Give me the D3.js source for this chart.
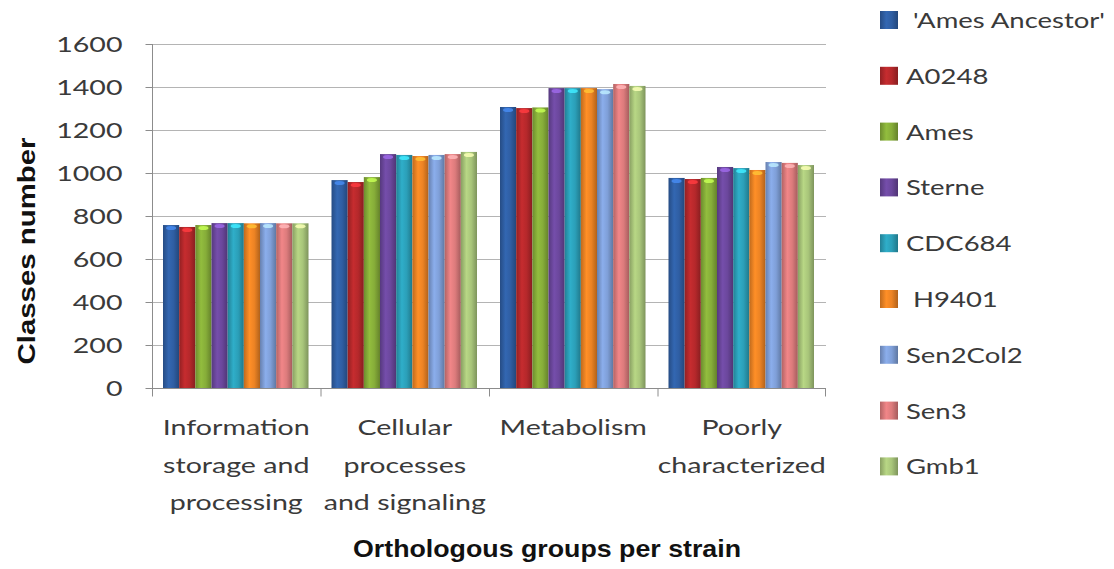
<!DOCTYPE html>
<html>
<head>
<meta charset="utf-8">
<script src="https://cdn.jsdelivr.net/npm/d3@7"></script>
<style>
  body { margin: 0; background: #fff; }
  svg { display: block; }
</style>
</head>
<body>
<svg id="chart" width="1114" height="569"></svg>
<script>
var categories = [
  ["Information", "storage and", "processing"],
  ["Cellular", "processes", "and signaling"],
  ["Metabolism"],
  ["Poorly", "characterized"]
];
var seriesNames = ["\u00a0'Ames Ancestor'", "A0248", "Ames", "Sterne", "CDC684", "\u00a0H9401", "Sen2Col2", "Sen3", "Gmb1"];
var seriesColors = ["#2f5ea3", "#b5282b", "#86ad39", "#6b479c", "#2b9fb8", "#ec8324", "#7f9fd8", "#dc7b7c", "#a8c57a"];

var amesAncestor = [758, 967, 1307, 977];
var a0248 = [749, 958, 1302, 972];
var ames = [758, 981, 1305, 977];
var sterne = [767, 1088, 1395, 1028];
var cdc684 = [767, 1084, 1395, 1023];
var h9401 = [766, 1079, 1395, 1014];
var sen2col2 = [767, 1084, 1390, 1051];
var sen3 = [766, 1088, 1414, 1047];
var gmb1 = [766, 1098, 1405, 1037];
var seriesValues = [amesAncestor, a0248, ames, sterne, cdc684, h9401, sen2col2, sen3, gmb1];

var yTicks = [0, 200, 400, 600, 800, 1000, 1200, 1400, 1600];

var [plotLeft, plotRight, plotTop, plotBottom] = [152, 826, 44, 388];
var font = "Lato, 'Open Sans', sans-serif";
var textColor = "#3a3a3a";

/** Scales */
var x0 = d3.scaleBand().domain(d3.range(categories.length)).range([plotLeft, plotRight]);
var x1 = d3.scaleBand().domain(d3.range(seriesNames.length)).range([11, x0.bandwidth() - 12]);
var y = d3.scaleLinear().domain([0, 1600]).range([plotBottom, plotTop]);

var svg = d3.select("#chart");
var defs = svg.append("defs");

// bar gradients, darker at edges
seriesColors.forEach(function (c, i) {
  var g = defs.append("linearGradient").attr("id", "bar" + i)
    .attr("x1", 0).attr("x2", 1).attr("y1", 0).attr("y2", 0);
  var base = d3.color(c);
  g.append("stop").attr("offset", "0%").attr("stop-color", base.darker(0.6));
  g.append("stop").attr("offset", "35%").attr("stop-color", base.brighter(0.25));
  g.append("stop").attr("offset", "65%").attr("stop-color", base);
  g.append("stop").attr("offset", "100%").attr("stop-color", base.darker(0.8));
});

/** Grid */
svg.append("g").selectAll("line")
  .data(yTicks.slice(1))
  .enter().append("line")
  .attr("x1", plotLeft).attr("x2", plotRight)
  .attr("y1", d => y(d) + 0.5).attr("y2", d => y(d) + 0.5)
  .attr("stroke", "#b4b4b4").attr("stroke-width", 1.2);

/** Y axis */
var yAxis = svg.append("g")
  .attr("transform", "translate(" + (plotLeft + 0.5) + ",0)")
  .call(d3.axisLeft(y).tickValues(yTicks).tickFormat(d3.format("d")).tickSize(7).tickPadding(23));
yAxis.select(".domain").attr("stroke", "#8c8c8c").attr("d", "M0," + plotTop + "V" + plotBottom);
yAxis.selectAll(".tick line").attr("stroke", "#8c8c8c");
yAxis.selectAll(".tick text").attr("fill", textColor)
  .style("font-family", font).style("font-size", "22px");

/** Bars */
var groups = svg.append("g").selectAll("g")
  .data(categories)
  .enter().append("g")
  .attr("transform", (d, i) => "translate(" + x0(i) + ",0)");

groups.selectAll("rect")
  .data((d, ci) => seriesValues.map((vals, si) => ({ si: si, v: vals[ci] })))
  .enter().append("rect")
  .attr("x", d => x1(d.si))
  .attr("y", d => y(d.v))
  .attr("width", x1.bandwidth())
  .attr("height", d => plotBottom - y(d.v))
  .attr("fill", d => "url(#bar" + d.si + ")");

// small highlight at the top of each bar
groups.selectAll("ellipse")
  .data((d, ci) => seriesValues.map((vals, si) => ({ si: si, v: vals[ci] })))
  .enter().append("ellipse")
  .attr("cx", d => x1(d.si) + x1.bandwidth() / 2)
  .attr("cy", d => y(d.v) + 3)
  .attr("rx", x1.bandwidth() / 3.2)
  .attr("ry", 2)
  .attr("fill", d => d3.color(seriesColors[d.si]).brighter(1.1))
  .attr("opacity", 0.85);

/** X axis */
var xAxis = svg.append("g")
  .attr("transform", "translate(0," + (plotBottom + 0.5) + ")");
xAxis.append("line").attr("x1", plotLeft).attr("x2", plotRight)
  .attr("stroke", "#8c8c8c");
xAxis.selectAll(".xt")
  .data(d3.range(categories.length + 1))
  .enter().append("line").attr("class", "xt")
  .attr("x1", d => d < categories.length ? x0(d) + 0.5 : plotRight - 0.5)
  .attr("x2", d => d < categories.length ? x0(d) + 0.5 : plotRight - 0.5)
  .attr("y1", 0).attr("y2", 8)
  .attr("stroke", "#8c8c8c");

var sx = 1.3;
categories.forEach(function (lines, i) {
  lines.forEach(function (t, j) {
    svg.append("text")
      .attr("transform", "translate(" + (x0(i) + x0.bandwidth() / 2) + "," + (435 + j * 37.5) + ") scale(" + sx + ",1)")
      .attr("text-anchor", "middle")
      .attr("fill", textColor)
      .style("font-family", font).style("font-size", "22px")
      .text(t);
  });
});

// stretch y tick labels the same way
yAxis.selectAll(".tick text").each(function () {
  var t = d3.select(this);
  var xx = +t.attr("x");
  t.attr("x", null).attr("transform", "translate(" + xx + ",0) scale(" + sx + ",1)");
});

/** Titles */
svg.append("text")
  .attr("x", 547).attr("y", 557)
  .attr("text-anchor", "middle")
  .attr("fill", "#111")
  .attr("textLength", 388).attr("lengthAdjust", "spacingAndGlyphs")
  .style("font-family", "'Liberation Sans', Arial, sans-serif")
  .style("font-weight", "bold").style("font-size", "24px")
  .text("Orthologous  groups per strain");

svg.append("text")
  .attr("transform", "translate(35,251) rotate(-90)")
  .attr("text-anchor", "middle")
  .attr("fill", "#111")
  .attr("textLength", 227).attr("lengthAdjust", "spacingAndGlyphs")
  .style("font-family", "'Liberation Sans', Arial, sans-serif")
  .style("font-weight", "bold").style("font-size", "24px")
  .text("Classes number");

/** Legend */
var legend = svg.append("g").selectAll("g")
  .data(seriesNames)
  .enter().append("g")
  .attr("transform", (d, i) => "translate(880," + (20 + i * 55.8) + ")");
legend.append("rect")
  .attr("x", 0).attr("y", -9).attr("width", 18).attr("height", 18)
  .attr("fill", (d, i) => "url(#bar" + i + ")");
legend.append("text")
  .attr("transform", "translate(26,8) scale(1.25,1)")
  .attr("fill", textColor)
  .style("font-family", font).style("font-size", "22px")
  .text(d => d);
</script>
</body>
</html>
